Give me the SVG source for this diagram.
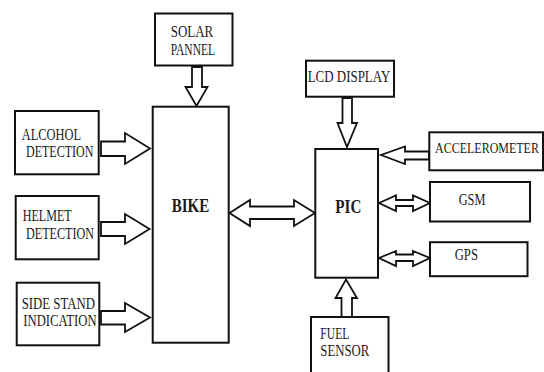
<svg xmlns="http://www.w3.org/2000/svg" width="544" height="372" viewBox="0 0 544 372">
<style>
.box{fill:#fff;stroke:#111;stroke-width:2}
.arr{fill:#fff;stroke:#111;stroke-width:1.8;stroke-linejoin:miter}
text{font-family:"Liberation Serif","Times New Roman",serif;font-size:16px;fill:#1a1a1a}
.b{font-weight:bold;font-size:18px}
</style>
<rect width="544" height="372" fill="#fff"/>
<g id="connectors">
<polygon class="arr" points="192,67 202,67 202,87 207.5,87 196.5,106 185.5,87 192,87"/>
<polygon class="arr" points="101,141.5 125,141.5 125,133 150,148.5 125,164 125,156 101,156"/>
<polygon class="arr" points="101,222 125,222 125,214 149.5,229 125,244 125,236 101,236"/>
<polygon class="arr" points="101,311 125,311 125,303 150,317.5 125,332 125,324.5 101,324.5"/>
<polygon class="arr" points="229.5,213 250,200 250,206.5 294,206.5 294,200 315,213 294,226 294,219 250,219 250,226"/>
<polygon class="arr" points="342.5,98 352,98 352,123 357,123 347,147 337.5,123 342.5,123"/>
<polygon class="arr" points="429,151.5 405,151.5 405,146.5 381,155 405,164 405,159.5 429,159.5"/>
<polygon class="arr" points="379,203 396,195.5 396,200 413,200 413,195.5 430,203 413,211 413,206 396,206 396,211"/>
<polygon class="arr" points="379,258 396,251 396,254.5 413,254.5 413,251 430,258 413,266 413,261 396,261 396,266"/>
<polygon class="arr" points="346,279.5 357,298 352,298 352,317 341.5,317 341.5,298 335.5,298"/>
</g>
<g id="solar"><rect class="box" x="155" y="13.5" width="77.5" height="52"/>
<text x="170.7" y="36.5" textLength="42.6" lengthAdjust="spacingAndGlyphs">SOLAR</text>
<text x="170.7" y="55" textLength="44.3" lengthAdjust="spacingAndGlyphs">PANNEL</text></g>
<g id="bike"><rect class="box" x="152.7" y="106.7" width="76" height="236"/>
<text class="b" x="171.7" y="211.7" textLength="37.6" lengthAdjust="spacingAndGlyphs">BIKE</text></g>
<g id="alcohol"><rect class="box" x="15" y="111" width="83.7" height="63.3"/>
<text x="21.7" y="140" textLength="59.3" lengthAdjust="spacingAndGlyphs">ALCOHOL</text>
<text x="26" y="157" textLength="67.3" lengthAdjust="spacingAndGlyphs">DETECTION</text></g>
<g id="helmet"><rect class="box" x="15.7" y="196" width="83" height="63.3"/>
<text x="22.7" y="221" textLength="49" lengthAdjust="spacingAndGlyphs">HELMET</text>
<text x="26" y="238.5" textLength="68" lengthAdjust="spacingAndGlyphs">DETECTION</text></g>
<g id="sidestand"><rect class="box" x="16.7" y="282.7" width="82.6" height="62.6"/>
<text x="21.7" y="308.7" textLength="73.3" lengthAdjust="spacingAndGlyphs">SIDE STAND</text>
<text x="23.3" y="326" textLength="73.3" lengthAdjust="spacingAndGlyphs">INDICATION</text></g>
<g id="lcd"><rect class="box" x="306" y="60.7" width="88" height="36"/>
<text x="307.7" y="81.7" textLength="82.6" lengthAdjust="spacingAndGlyphs">LCD DISPLAY</text></g>
<g id="pic"><rect class="box" x="315.3" y="149" width="62.7" height="128.7"/>
<text class="b" x="335.3" y="212.7" textLength="26" lengthAdjust="spacingAndGlyphs">PIC</text></g>
<g id="accelerometer"><rect class="box" x="429.3" y="132.3" width="113.7" height="38"/>
<text transform="translate(435,153.3) scale(1,1.3)" x="0" y="0" style="font-size:12px">ACCELEROMETER</text></g>
<g id="gsm"><rect class="box" x="430" y="182" width="100" height="39.5"/>
<text x="458.7" y="205.3" textLength="26.7" lengthAdjust="spacingAndGlyphs">GSM</text></g>
<g id="gps"><rect class="box" x="430" y="242.2" width="97.5" height="34"/>
<text x="454.7" y="260" textLength="23.3" lengthAdjust="spacingAndGlyphs">GPS</text></g>
<g id="fuel"><rect class="box" x="311" y="317" width="77.5" height="70"/>
<text x="320.3" y="339" textLength="29" lengthAdjust="spacingAndGlyphs">FUEL</text>
<text x="320.3" y="355.5" textLength="49" lengthAdjust="spacingAndGlyphs">SENSOR</text></g>
</svg>
